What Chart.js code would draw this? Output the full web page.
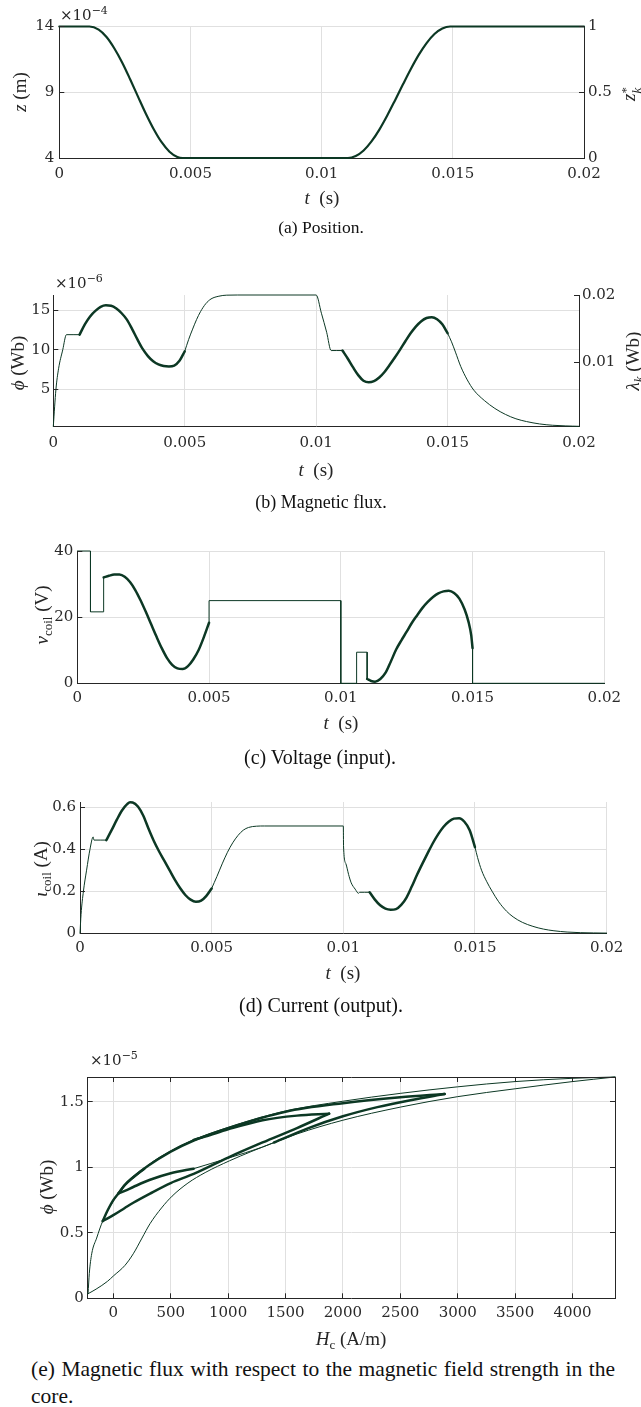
<!DOCTYPE html>
<html>
<head>
<meta charset="utf-8">
<title>Magnetic actuator simulation</title>
<script src="https://cdn.jsdelivr.net/npm/chart.js@4/dist/chart.umd.min.js"></script>
<style>
  html, body { margin:0; padding:0; background:#fff; }
  #page { position:relative; width:641px; height:1407px; overflow:hidden; background:#fff; }
  #page canvas { position:absolute; left:0; }
  .t { position:absolute; white-space:nowrap; font-family:'Liberation Serif','Times New Roman',serif; color:#262626; line-height:1; transform:translate(-50%,-50%); font-size:19px; }
  .t.r { transform:translate(-50%,-50%) rotate(-90deg); }
  .sb { font-size:13px; position:relative; top:0.3em; }
  .stk { display:inline-block; vertical-align:-0.45em; line-height:0.85; font-size:13px; text-align:left; }
  .stk span { display:block; }
  .cap { position:absolute; white-space:nowrap; font-family:'Liberation Serif','Times New Roman',serif; color:#111; line-height:1; transform:translate(-50%,-50%); }
  .mult { position:absolute; white-space:nowrap; font-family:'DejaVu Serif',serif; font-size:15px; color:#262626; line-height:1; }
  .mult sup { font-size:11px; }
</style>
</head>
<body>
<div id="page">
  <canvas id="chA" width="641" height="192" style="top:0px"></canvas>
  <canvas id="chB" width="641" height="190" style="top:270px"></canvas>
  <canvas id="chC" width="641" height="190" style="top:530px"></canvas>
  <canvas id="chD" width="641" height="190" style="top:780px"></canvas>
  <canvas id="chE" width="641" height="264" style="top:1064px"></canvas>

  <!-- (a) -->
  <div class="mult" style="left:60px;top:5px">×10<sup>−4</sup></div>
  <div class="t r" style="left:19px;top:92px"><i>z</i> (m)</div>
  <div class="t r" style="left:630px;top:94px"><i>z</i><span class="stk"><span>*</span><span><i>k</i></span></span></div>
  <div class="t" style="left:322px;top:197px"><i>t</i>&nbsp;&nbsp;(s)</div>
  <div class="cap" style="left:321px;top:228px;font-size:17.5px">(a) Position.</div>

  <!-- (b) -->
  <div class="mult" style="left:55px;top:273px">×10<sup>−6</sup></div>
  <div class="t r" style="left:17px;top:363px"><i>ϕ</i> (Wb)</div>
  <div class="t r" style="left:632px;top:361px"><i>λ</i><span class="sb"><i>k</i></span> (Wb)</div>
  <div class="t" style="left:316px;top:469px"><i>t</i>&nbsp;&nbsp;(s)</div>
  <div class="cap" style="left:321px;top:502px;font-size:18px">(b) Magnetic flux.</div>

  <!-- (c) -->
  <div class="t r" style="left:41px;top:615px"><i>v</i><span class="sb">coil</span> (V)</div>
  <div class="t" style="left:341px;top:722px"><i>t</i>&nbsp;&nbsp;(s)</div>
  <div class="cap" style="left:320px;top:757px;font-size:20px">(c) Voltage (input).</div>

  <!-- (d) -->
  <div class="t r" style="left:40px;top:869px"><i>ι</i><span class="sb">coil</span> (A)</div>
  <div class="t" style="left:343px;top:972px"><i>t</i>&nbsp;&nbsp;(s)</div>
  <div class="cap" style="left:321px;top:1005px;font-size:20px">(d) Current (output).</div>

  <!-- (e) -->
  <div class="mult" style="left:90px;top:1050px">×10<sup>−5</sup></div>
  <div class="t r" style="left:46px;top:1187px"><i>ϕ</i> (Wb)</div>
  <div class="t" style="left:351px;top:1338px"><i>H</i><span class="sb">c</span> (A/m)</div>
  <div style="position:absolute;left:31px;top:1357px;width:584px;font-family:'Liberation Serif','Times New Roman',serif;font-size:21.5px;color:#111;line-height:1.2;text-align:justify;text-align-last:justify;white-space:nowrap;">(e) Magnetic flux with respect to the magnetic field strength in the</div>
  <div style="position:absolute;left:31px;top:1384px;font-family:'Liberation Serif','Times New Roman',serif;font-size:21.5px;color:#111;line-height:1.2;">core.</div>
</div>

<script>
// ================= DATA =================
// time axis (ms on the scale, labelled in seconds)
const timeTicks      = [0, 5, 10, 15, 20];
const timeTickLabels = ['0', '0.005', '0.01', '0.015', '0.02'];

// (a) position z (x1e-4 m) and normalised z*_k
const posTicks          = [4, 9, 14];
const posTickLabels     = ['4', '9', '14'];
const posNormTicks      = [0, 0.5, 1];
const posNormTickLabels = ['0', '0.5', '1'];
const posT = [0, 1.15, 1.5, 1.8, 2.1, 2.4, 2.7, 3.0, 3.3, 3.6, 3.9, 4.2, 4.5, 4.7,
              11.0, 11.3, 11.6, 11.9, 12.2, 12.5, 12.8, 13.1, 13.4, 13.7, 14.0, 14.3, 14.6, 14.9, 20];
const posZ = [14, 14, 13.76, 13.2, 12.33, 11.25, 9.99, 8.67, 7.37, 6.19, 5.2, 4.48, 4.08, 4.0,
              4.0, 4.15, 4.57, 5.26, 6.16, 7.23, 8.4, 9.6, 10.77, 11.84, 12.74, 13.43, 13.85, 14.0, 14.0];

// (b) magnetic flux phi (x1e-6 Wb), lambda_k (Wb)
const fluxTicks        = [5, 10, 15];
const fluxTickLabels   = ['5', '10', '15'];
const lambdaTicks      = [0.01, 0.02];
const lambdaTickLabels = ['0.01', '0.02'];
const fluxA_t = [0, 0.1, 0.2, 0.36, 0.5, 1.0];
const fluxA_v = [0.35, 5.0, 7.6, 10.0, 11.9, 11.9];
const fluxB_t = [1.0, 1.2, 1.4, 1.6, 1.8, 2.0, 2.2, 2.4, 2.6, 2.8, 3.0, 3.2, 3.4, 3.6, 3.8, 4.0, 4.2, 4.4, 4.6, 4.8, 5.0];
const fluxB_v = [11.9, 13.2, 14.2, 14.9, 15.4, 15.6, 15.55, 15.2, 14.6, 13.8, 12.6, 11.3, 10.1, 9.2, 8.55, 8.15, 7.95, 7.9, 8.0, 8.6, 9.8];
const fluxC_t = [5.0, 5.15, 5.3, 5.45, 5.6, 5.8, 6.0, 6.3, 6.6, 7.0, 10.0, 10.2, 10.4, 10.57, 11.0];
const fluxC_v = [9.8, 11.3, 12.6, 13.8, 14.8, 15.8, 16.4, 16.75, 16.88, 16.9, 16.9, 14.6, 12.2, 9.9, 9.9];
const fluxD_t = [11.0, 11.2, 11.4, 11.6, 11.8, 12.0, 12.2, 12.4, 12.6, 12.8, 13.0, 13.2, 13.4, 13.6, 13.8, 14.0, 14.2, 14.4, 14.6, 14.8, 15.0];
const fluxD_v = [9.9, 8.9, 7.8, 6.8, 6.1, 5.9, 6.05, 6.5, 7.2, 8.1, 9.05, 10.05, 11.1, 12.1, 12.95, 13.6, 14.0, 14.1, 13.85, 13.2, 12.1];
const fluxE_t = [15.0, 15.15, 15.3, 15.5, 15.75, 16.0, 16.4, 16.8, 17.2, 17.6, 18.0, 18.5, 19.0, 19.5, 20.0];
const fluxE_v = [12.1, 11.0, 9.7, 7.9, 6.2, 4.9, 3.6, 2.6, 1.85, 1.3, 0.95, 0.65, 0.48, 0.4, 0.35];

// (c) coil voltage (V)
const voltTicks      = [0, 20, 40];
const voltTickLabels = ['0', '20', '40'];
const voltA_t = [0, 0.5, 0.5, 1.0, 1.0];
const voltA_v = [40, 40, 21.6, 21.6, 32.0];
const voltB_t = [1.0, 1.2, 1.4, 1.6, 1.8, 2.0, 2.2, 2.4, 2.6, 2.8, 3.0, 3.2, 3.4, 3.6, 3.8, 4.0, 4.2, 4.4, 4.6, 4.8, 5.0];
const voltB_v = [32.0, 32.5, 32.9, 32.9, 32.2, 30.6, 28.2, 25.1, 21.6, 17.9, 14.2, 10.7, 7.7, 5.6, 4.5, 4.3, 5.2, 7.2, 10.0, 13.9, 18.3];
const voltC_t = [5.0, 5.0, 10.0, 10.0, 10.6, 10.6, 11.0, 11.0];
const voltC_v = [18.3, 25.0, 25.0, 0, 0, 9.4, 9.4, 1.3];
const voltD_t = [11.0, 11.15, 11.3, 11.5, 11.7, 11.9, 12.1, 12.3, 12.5, 12.7, 12.9, 13.1, 13.3, 13.5, 13.7, 13.9, 14.1, 14.3, 14.5, 14.7, 14.85, 14.95, 15.0];
const voltD_v = [1.3, 0.7, 0.5, 1.3, 3.2, 6.6, 10.2, 13.0, 15.6, 18.3, 20.6, 22.8, 24.6, 26.1, 27.2, 27.8, 28.0, 27.3, 25.6, 22.3, 18.5, 14.5, 10.6];
const voltE_t = [15.0, 15.0, 20.0];
const voltE_v = [10.6, 0, 0];

// (d) coil current (A)
const curTicks      = [0, 0.2, 0.4, 0.6];
const curTickLabels = ['0', '0.2', '0.4', '0.6'];
const curA_t = [0, 0.04, 0.13, 0.25, 0.38, 0.5, 0.53, 1.0];
const curA_v = [0, 0.09, 0.2, 0.3, 0.4, 0.458, 0.443, 0.443];
const curB_t = [1.0, 1.2, 1.4, 1.6, 1.8, 1.9, 2.0, 2.2, 2.4, 2.6, 2.8, 3.0, 3.2, 3.4, 3.6, 3.8, 4.0, 4.2, 4.4, 4.6, 4.8, 5.0];
const curB_v = [0.443, 0.49, 0.54, 0.585, 0.615, 0.623, 0.622, 0.603, 0.56, 0.498, 0.44, 0.39, 0.345, 0.30, 0.255, 0.215, 0.182, 0.16, 0.15, 0.155, 0.178, 0.213];
const curC_t = [5.0, 5.2, 5.4, 5.6, 5.8, 6.0, 6.2, 6.4, 6.7, 7.0, 10.0, 10.01, 10.1, 10.2, 10.3, 10.45, 10.58, 10.62, 11.0];
const curC_v = [0.213, 0.27, 0.33, 0.385, 0.43, 0.465, 0.49, 0.503, 0.509, 0.51, 0.51, 0.41, 0.33, 0.28, 0.24, 0.21, 0.19, 0.195, 0.195];
const curD_t = [11.0, 11.2, 11.4, 11.6, 11.8, 12.0, 12.2, 12.4, 12.6, 12.8, 13.0, 13.2, 13.4, 13.6, 13.8, 14.0, 14.2, 14.4, 14.6, 14.8, 15.0];
const curD_v = [0.195, 0.16, 0.133, 0.117, 0.112, 0.115, 0.135, 0.17, 0.222, 0.278, 0.33, 0.38, 0.428, 0.47, 0.505, 0.53, 0.545, 0.547, 0.53, 0.49, 0.41];
const curE_t = [15.0, 15.1, 15.25, 15.45, 15.65, 15.9, 16.2, 16.45, 16.8, 17.2, 17.6, 18.0, 18.5, 19.0, 20.0];
const curE_v = [0.41, 0.36, 0.30, 0.245, 0.2, 0.15, 0.105, 0.078, 0.052, 0.033, 0.02, 0.012, 0.006, 0.003, 0.001];

// (e) flux (x1e-5 Wb) versus core field strength H_c (A/m)
const hTicks        = [0, 500, 1000, 1500, 2000, 2500, 3000, 3500, 4000];
const hTickLabels   = ['0', '500', '1000', '1500', '2000', '2500', '3000', '3500', '4000'];
const phiTicks      = [0, 0.5, 1, 1.5];
const phiTickLabels = ['0', '0.5', '1', '1.5'];
const hVirgin   = [-220, -150, -50, 0, 100, 174, 250, 320, 420, 512, 650, 800, 1012, 1200, 1400];
const phiVirgin = [0.035, 0.07, 0.13, 0.17, 0.25, 0.34, 0.46, 0.57, 0.69, 0.78, 0.88, 0.96, 1.05, 1.12, 1.19];
const hAscA     = [1400, 1700, 2000, 2300, 2600, 2886];
const phiAscA   = [1.19, 1.30, 1.39, 1.46, 1.515, 1.56];
const hDescA    = [2886, 2500, 2000, 1500, 1000, 700, 500, 300, 174, 100, 44];
const phiDescA  = [1.56, 1.535, 1.49, 1.425, 1.30, 1.205, 1.12, 1.01, 0.925, 0.865, 0.80];
const hAscB     = [44, 100, 174, 320, 500, 700];
const phiAscB   = [0.80, 0.82, 0.85, 0.905, 0.955, 0.99];
const hAscC     = [700, 1000, 1300, 1600, 2000, 2500, 3000, 3500, 4000, 4370];
const phiAscC   = [0.99, 1.07, 1.155, 1.255, 1.36, 1.46, 1.54, 1.60, 1.655, 1.69];
const hDescC    = [4370, 4000, 3500, 3000, 2500, 2000, 1500, 1000, 700, 500, 300, 270];
const phiDescC  = [1.69, 1.68, 1.655, 1.615, 1.565, 1.505, 1.43, 1.305, 1.21, 1.125, 1.015, 0.99];
const hDescD    = [270, 174, 100, 44, 0, -50, -92];
const phiDescD  = [0.99, 0.925, 0.865, 0.80, 0.75, 0.67, 0.59];
const hAscE     = [-92, 0, 100, 174, 320, 500, 700, 1000, 1300, 1600, 1880];
const phiAscE   = [0.59, 0.635, 0.69, 0.73, 0.80, 0.88, 0.95, 1.075, 1.19, 1.30, 1.41];
const hDescE    = [1880, 1600, 1300, 1000, 800, 700];
const phiDescE  = [1.41, 1.395, 1.36, 1.29, 1.235, 1.21];
const hDescF    = [700, 500, 300, 174, 44, -92, -145, -188, -209, -220];
const phiDescF  = [1.21, 1.12, 1.01, 0.925, 0.80, 0.59, 0.46, 0.34, 0.19, 0.035];

// ================= STYLE =================
const INK = 'rgb(12,56,36)';
const AXIS = '#262626';
const GRID = '#e0e0e0';
const TICK_FONT = { family: "'DejaVu Serif', serif", size: 15 };
const TICK_COLOR = '#2a2a2a';
const THICK = 2.5, THIN = 1;

function series(xs, ys, width, smooth) {
  return {
    data: xs.map((x, i) => ({ x: x, y: ys[i] })),
    borderColor: INK, borderWidth: width,
    pointRadius: 0, pointHoverRadius: 0, fill: false,
    tension: 0, cubicInterpolationMode: smooth ? 'monotone' : 'default',
    borderJoinStyle: 'round', borderCapStyle: 'round',
    clip: false, order: width > 1.5 ? 0 : 1
  };
}

const decorPlugin = {
  id: 'decor',
  afterDraw(chart) {
    const spec = chart.options.plugins.decor;
    if (!spec) return;
    const { ctx, chartArea: a, scales } = chart;
    const al = v => Math.round(v - 0.5) + 0.5;
    const L = 5;
    ctx.save();
    ctx.strokeStyle = AXIS; ctx.lineWidth = 1;
    ctx.beginPath();
    (spec.marks || []).forEach(m => {
      const sc = scales[m.scale];
      m.values.forEach(v => {
        const p = al(sc.getPixelForValue(v));
        if (m.side === 'left')   { ctx.moveTo(a.left, p);  ctx.lineTo(a.left + L, p); }
        if (m.side === 'right')  { ctx.moveTo(a.right, p); ctx.lineTo(a.right - L, p); }
        if (m.side === 'bottom') { ctx.moveTo(p, a.bottom); ctx.lineTo(p, a.bottom - L); }
        if (m.side === 'top')    { ctx.moveTo(p, a.top);   ctx.lineTo(p, a.top + L); }
      });
    });
    if (spec.box) {
      const t = al(a.top), r = al(a.right);
      ctx.moveTo(a.left, t); ctx.lineTo(a.right + 0.5, t);
      ctx.moveTo(r, a.top); ctx.lineTo(r, a.bottom);
    }
    ctx.stroke();
    ctx.restore();
  }
};

function axis(pos, range, ticks, labels, fitSize, pad, showGrid) {
  const horizontal = pos === 'bottom';
  return {
    type: 'linear', position: pos, min: range[0], max: range[1],
    afterBuildTicks: s => { s.ticks = ticks.map(v => ({ value: v })); },
    afterFit: s => { if (horizontal) s.height = fitSize; else s.width = fitSize; },
    grid: { display: showGrid, color: GRID, lineWidth: 1, drawTicks: false },
    border: { display: true, color: AXIS, width: 1 },
    ticks: { font: TICK_FONT, color: TICK_COLOR, padding: pad, maxRotation: 0, autoSkip: false,
             callback: (v, i) => labels[i] }
  };
}

function build(id, cfg) {
  const scales = {
    x: axis('bottom', cfg.xr, cfg.xt, cfg.xl, cfg.xh, cfg.xpad, true),
    y: axis('left', cfg.yr, cfg.yt, cfg.yl, cfg.yw, cfg.ypad, true)
  };
  if (cfg.y2r) scales.y2 = axis('right', cfg.y2r, cfg.y2t, cfg.y2l, cfg.y2w, cfg.y2pad, false);
  return new Chart(document.getElementById(id), {
    type: 'line',
    data: { datasets: cfg.datasets },
    options: {
      responsive: false, animation: false, devicePixelRatio: 1, events: [],
      layout: { autoPadding: false, padding: { top: cfg.padT, right: cfg.padR || 0, left: 0, bottom: 0 } },
      scales: scales,
      plugins: { legend: { display: false }, tooltip: { enabled: false }, decor: cfg.decor }
    },
    plugins: [decorPlugin]
  });
}

// (a) Position
build('chA', {
  padT: 26.5, xh: 34, yw: 59.3, y2w: 57, xpad: 7, ypad: 5, y2pad: 4,
  xr: [0, 20], xt: timeTicks, xl: timeTickLabels,
  yr: [4, 14], yt: posTicks, yl: posTickLabels,
  y2r: [0, 1], y2t: posNormTicks, y2l: posNormTickLabels,
  datasets: [series(posT, posZ, 2.2, true)],
  decor: { marks: [{ scale: 'y', side: 'left', values: posTicks }, { scale: 'y2', side: 'right', values: posNormTicks }] }
});

// (b) Magnetic flux
build('chB', {
  padT: 25, xh: 33.3, yw: 53.3, y2w: 62, xpad: 7, ypad: 3, y2pad: 3,
  xr: [0, 20], xt: timeTicks, xl: timeTickLabels,
  yr: [0.3, 16.9], yt: fluxTicks, yl: fluxTickLabels,
  y2r: [0.000355, 0.02], y2t: lambdaTicks, y2l: lambdaTickLabels,
  datasets: [
    series(fluxB_t, fluxB_v, THICK, true), series(fluxD_t, fluxD_v, THICK, true),
    series(fluxA_t, fluxA_v, THIN, true), series(fluxC_t, fluxC_v, THIN, true), series(fluxE_t, fluxE_v, THIN, true)
  ],
  decor: { marks: [{ scale: 'y', side: 'left', values: fluxTicks }, { scale: 'y2', side: 'right', values: lambdaTicks }] }
});

// (c) Voltage
build('chC', {
  padT: 21, padR: 36.7, xh: 36.7, yw: 77.3, xpad: 6, ypad: 4,
  xr: [0, 20], xt: timeTicks, xl: timeTickLabels,
  yr: [0, 40], yt: voltTicks, yl: voltTickLabels,
  datasets: [
    series(voltB_t, voltB_v, THICK, true), series(voltD_t, voltD_v, THICK, true),
    series(voltA_t, voltA_v, THIN, false), series(voltC_t, voltC_v, THIN, false), series(voltE_t, voltE_v, THIN, false)
  ],
  decor: { marks: [{ scale: 'y', side: 'left', values: voltTicks }] }
});

// (d) Current
build('chD', {
  padT: 22, padR: 34.4, xh: 36.7, yw: 80, xpad: 6, ypad: 4,
  xr: [0, 20], xt: timeTicks, xl: timeTickLabels,
  yr: [0, 0.624], yt: curTicks, yl: curTickLabels,
  datasets: [
    series(curB_t, curB_v, THICK, true), series(curD_t, curD_v, THICK, true),
    series(curA_t, curA_v, THIN, true), series(curC_t, curC_v, THIN, true), series(curE_t, curE_v, THIN, true)
  ],
  decor: { marks: [{ scale: 'y', side: 'left', values: curTicks }] }
});

// (e) Flux vs field strength
build('chE', {
  padT: 8.3, padR: 26, xh: 29.7, yw: 87.7, xpad: 6, ypad: 4,
  xr: [-223, 4370], xt: hTicks, xl: hTickLabels,
  yr: [0, 1.69], yt: phiTicks, yl: phiTickLabels,
  datasets: [
    series(hAscA, phiAscA, THICK, true), series(hDescA, phiDescA, THICK, true),
    series(hAscB, phiAscB, THICK, true), series(hDescD, phiDescD, THICK, true),
    series(hAscE, phiAscE, THICK, true), series(hDescE, phiDescE, THICK, true),
    series(hVirgin, phiVirgin, THIN, true), series(hAscC, phiAscC, THIN, true),
    series(hDescC, phiDescC, THIN, true), series(hDescF, phiDescF, THIN, true)
  ],
  decor: { box: true, marks: [
    { scale: 'y', side: 'left', values: phiTicks }, { scale: 'y', side: 'right', values: phiTicks },
    { scale: 'x', side: 'bottom', values: hTicks }, { scale: 'x', side: 'top', values: hTicks }
  ] }
});
</script>
</body>
</html>
